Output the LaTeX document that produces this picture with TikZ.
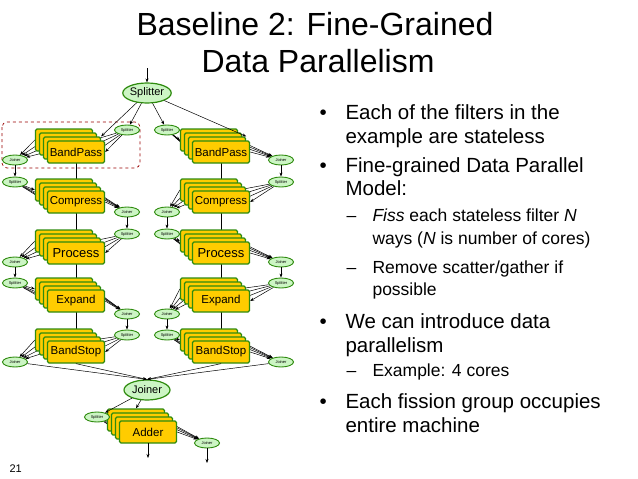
\documentclass[tikz,border=0pt]{standalone}
\usepackage{fontspec}
\setmainfont{Liberation Sans}
\usetikzlibrary{shapes.geometric,arrows.meta,backgrounds}
\definecolor{gbord}{HTML}{2E8B0E}
\definecolor{gfill}{HTML}{CCF5C4}
\definecolor{boxf}{HTML}{FFCC00}
\tikzset{
 fbox/.style={draw=gbord,line width=1.3pt,fill=boxf,rounded corners=1.5pt,minimum width=57pt,minimum height=22pt,inner sep=0pt,font=\fontsize{11.5}{14}\selectfont},
 bell/.style={ellipse,draw=gbord,line width=1.2pt,fill=gfill,minimum width=46pt,minimum height=20pt,inner sep=0pt,font=\fontsize{11}{13}\selectfont},
 sell/.style={ellipse,draw=gbord,line width=0.9pt,fill=gfill,minimum width=25pt,minimum height=10pt,inner sep=0pt,font=\fontsize{4}{5}\selectfont},
 arr/.style={-{Stealth[length=4pt,width=3pt]},line width=0.5pt},
 bul/.style={anchor=base west,font=\fontsize{20.5}{24}\selectfont},
 sub/.style={anchor=base west,font=\fontsize{17.5}{20}\selectfont},
}
\newcommand\stk[4]{%
 \foreach \k in {3,2,1}{\node[fbox] (#1\k) at ({#2-4*\k},{#3-4*\k}) {};}
 \node[fbox] (#10) at (#2,#3) {#4};}
\newcommand\fanin[3]{\begin{pgfonlayer}{background}\foreach \k in {0,1,2,3}{\draw[arr] (#1) -- (#2\k.#3);}\end{pgfonlayer}}
\newcommand\fanout[3]{\begin{pgfonlayer}{background}\foreach \k in {0,1,2,3}{\draw[arr] (#2\k.#3) -- (#1);}\end{pgfonlayer}}
\begin{document}
\begin{tikzpicture}[x=1pt,y=-1pt]
\useasboundingbox (0,0) rectangle (638,479);
\node[font=\fontsize{32}{36}\selectfont] (t1) at (315,24) {Baseline 2: Fine-Grained};
\node[font=\fontsize{32}{36}\selectfont] (t2) at (318,61) {Data Parallelism};
\node[font=\fontsize{11}{12}\selectfont,anchor=base west] (num) at (6,472) {21};
% bullets
\node[bul] (b1) at (316,119) {•}; \node[bul] (b1a) at (342,119) {Each of the filters in the};
\node[bul] (b1b) at (342,143) {example are stateless};
\node[bul] (b2) at (316,172) {•}; \node[bul] (b2a) at (342,172) {Fine-grained Data Parallel};
\node[bul] (b2b) at (342,195) {Model:};
\node[sub] (s1) at (343,221) {–}; \node[sub] (s1a) at (369,221) {\textit{Fiss} each stateless filter \textit{N}};
\node[sub] (s1b) at (369,244) {ways (\textit{N} is number of cores)};
\node[sub] (s2) at (343,273) {–}; \node[sub] (s2a) at (369,273) {Remove scatter/gather if};
\node[sub] (s2b) at (369,295) {possible};
\node[bul] (b3) at (316,328) {•}; \node[bul] (b3a) at (342,328) {We can introduce data};
\node[bul] (b3b) at (342,352) {parallelism};
\node[sub] (s3) at (343,376) {–}; \node[sub] (s3a) at (369,376) {Example: 4 cores};
\node[bul] (b4) at (316,408) {•}; \node[bul] (b4a) at (342,408) {Each fission group occupies};
\node[bul] (b4b) at (342,432) {entire machine};
% dashed box
\draw[dashed,draw=red!60!black,line width=0.7pt,rounded corners=5pt] (2,122) rectangle (140,168);
% top
\coordinate (in) at (147,68);
\node[bell] (sp) at (147,93) {Splitter};
\draw[arr] (in) -- (sp);
\stk{lbp}{76}{152}{BandPass}
\stk{lco}{76}{202}{Compress}
\stk{lpr}{76}{253}{\fontsize{13}{15}\selectfont Process}
\stk{lex}{76}{301}{Expand}
\stk{lbs}{76}{352}{BandStop}
\stk{rbp}{221}{152}{BandPass}
\stk{rco}{221}{202}{Compress}
\stk{rpr}{221}{253}{\fontsize{13}{15}\selectfont Process}
\stk{rex}{221}{301}{Expand}
\stk{rbs}{221}{352}{BandStop}
\node[sell] (ls1) at (127,130) {Splitter};
\node[sell] (lj1) at (15,160) {Joiner};
\node[sell] (ls2) at (15,182) {Splitter};
\node[sell] (lj2) at (127,212) {Joiner};
\node[sell] (ls3) at (127,234) {Splitter};
\node[sell] (lj3) at (15,262) {Joiner};
\node[sell] (ls4) at (15,283) {Splitter};
\node[sell] (lj4) at (127,314) {Joiner};
\node[sell] (ls5) at (127,335) {Splitter};
\node[sell] (lj5) at (15,362) {Joiner};
\node[sell] (rs1) at (167,130) {Splitter};
\node[sell] (rj1) at (281,160) {Joiner};
\node[sell] (rs2) at (281,182) {Splitter};
\node[sell] (rj2) at (167,212) {Joiner};
\node[sell] (rs3) at (167,234) {Splitter};
\node[sell] (rj3) at (281,262) {Joiner};
\node[sell] (rs4) at (281,283) {Splitter};
\node[sell] (rj4) at (167,314) {Joiner};
\node[sell] (rs5) at (167,335) {Splitter};
\node[sell] (rj5) at (281,362) {Joiner};
\draw[arr] (sp) -- (lbp1.north east);
\draw[arr] (sp) -- (ls1);
\draw[arr] (sp) -- (rbp1.north east);
\draw[arr] (sp) -- (rs1);
\fanin{ls1}{lbp}{east} \fanout{lj1}{lbp}{west}
\fanin{ls2}{lco}{west} \fanout{lj2}{lco}{east}
\fanin{ls3}{lpr}{east} \fanout{lj3}{lpr}{west}
\fanin{ls4}{lex}{west} \fanout{lj4}{lex}{east}
\fanin{ls5}{lbs}{east} \fanout{lj5}{lbs}{west}
\fanin{rs1}{rbp}{west} \fanout{rj1}{rbp}{east}
\fanin{rs2}{rco}{east} \fanout{rj2}{rco}{west}
\fanin{rs3}{rpr}{west} \fanout{rj3}{rpr}{east}
\fanin{rs4}{rex}{east} \fanout{rj4}{rex}{west}
\fanin{rs5}{rbs}{west} \fanout{rj5}{rbs}{east}
\foreach \a/\b in {lj1/ls2,lj2/ls3,lj3/ls4,lj4/ls5,rj1/rs2,rj2/rs3,rj3/rs4,rj4/rs5}{\draw[arr] (\a) -- (\b);}
\foreach \a/\b in {lbp/lco,lco/lpr,lpr/lex,lex/lbs,rbp/rco,rco/rpr,rpr/rex,rex/rbs}{
 \begin{pgfonlayer}{background}\draw[arr] (\a0.center) -- (\b0.south);\end{pgfonlayer}}
\node[bell] (jn) at (147,390) {Joiner};
\draw[arr] (lbs0.south) -- (jn.north);
\draw[arr] (rbs0.south) -- (jn.north);
\draw[arr] (lj5) -- (jn.north);
\draw[arr] (rj5) -- (jn.north);
\stk{ad}{148}{432}{Adder}
\node[sell] (as) at (97,417) {Splitter};
\node[sell] (aj) at (207,443) {Joiner};
\draw[arr] (jn) -- (as);
\begin{pgfonlayer}{background}\draw[arr] (jn) -- (ad3.north);\end{pgfonlayer}
\fanin{as}{ad}{west} \fanout{aj}{ad}{east}
\coordinate (o1) at (148,458);
\coordinate (o2) at (207,463);
\draw[arr] (ad0.center) ++(0,11) -- (o1);
\draw[arr] (aj) -- (o2);
\end{tikzpicture}
\end{document}
